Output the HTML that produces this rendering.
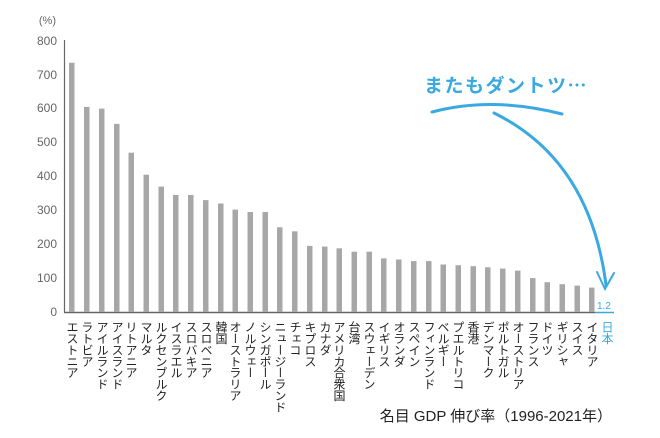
<!DOCTYPE html>
<html><head><meta charset="utf-8"><style>
body{margin:0;background:#fff;}
#w{position:relative;width:660px;height:438px;overflow:hidden;font-family:"Liberation Sans","Noto Sans CJK JP",sans-serif;}
.l{position:absolute;top:321px;width:14px;writing-mode:vertical-rl;font-size:12px;line-height:14px;color:#222;font-family:"Noto Sans CJK JP",sans-serif;letter-spacing:-0.6px;}
</style></head><body><div id="w">
<svg width="660" height="438" style="position:absolute;left:0;top:0">
<g fill="#666" font-size="12" text-anchor="end" font-family="Liberation Sans,sans-serif">
<text x="57" y="316">0</text><text x="57" y="282">100</text><text x="57" y="248">200</text><text x="57" y="214">300</text><text x="57" y="180">400</text><text x="57" y="146">500</text><text x="57" y="112">600</text><text x="57" y="79">700</text><text x="57" y="45">800</text>
<text x="56" y="24" font-size="11">(%)</text>
</g>
<line x1="64.5" y1="40" x2="64.5" y2="312" stroke="#666" stroke-width="1.2"/>
<line x1="64" y1="312.5" x2="595" y2="312.5" stroke="#666" stroke-width="1.5"/>
<line x1="595" y1="312.5" x2="614" y2="312.5" stroke="#3aa9e0" stroke-width="1.5"/>
<g fill="#a7a7aa">
<rect x="69" y="62.8" width="5.5" height="249.2"/>
<rect x="84" y="106.9" width="5.5" height="205.1"/>
<rect x="99" y="108.6" width="5.5" height="203.4"/>
<rect x="114" y="123.9" width="5.5" height="188.1"/>
<rect x="128.5" y="152.7" width="5.5" height="159.3"/>
<rect x="143.5" y="174.7" width="5.5" height="137.3"/>
<rect x="158.5" y="186.6" width="5.5" height="125.4"/>
<rect x="173" y="195" width="5.5" height="117"/>
<rect x="188" y="195" width="5.5" height="117"/>
<rect x="203" y="200.1" width="5.5" height="111.9"/>
<rect x="218" y="203.5" width="5.5" height="108.5"/>
<rect x="232.5" y="209.6" width="5.5" height="102.4"/>
<rect x="247.5" y="212" width="5.5" height="100"/>
<rect x="262.5" y="212" width="5.5" height="100"/>
<rect x="277" y="227.3" width="5.5" height="84.7"/>
<rect x="292" y="231.3" width="5.5" height="80.7"/>
<rect x="307" y="245.9" width="5.5" height="66.1"/>
<rect x="322" y="246.6" width="5.5" height="65.4"/>
<rect x="336.5" y="248.3" width="5.5" height="63.7"/>
<rect x="351.5" y="251.7" width="5.5" height="60.3"/>
<rect x="366.5" y="251.7" width="5.5" height="60.3"/>
<rect x="381" y="258.4" width="5.5" height="53.6"/>
<rect x="396" y="259.5" width="5.5" height="52.5"/>
<rect x="411" y="261.1" width="5.5" height="50.9"/>
<rect x="426" y="261.1" width="5.5" height="50.9"/>
<rect x="440.5" y="264.5" width="5.5" height="47.5"/>
<rect x="455.5" y="265.2" width="5.5" height="46.8"/>
<rect x="470.5" y="266.2" width="5.5" height="45.8"/>
<rect x="485" y="267.3" width="5.5" height="44.7"/>
<rect x="500" y="268.6" width="5.5" height="43.4"/>
<rect x="515" y="270.6" width="5.5" height="41.4"/>
<rect x="530" y="278.1" width="5.5" height="33.9"/>
<rect x="544.5" y="282.2" width="5.5" height="29.8"/>
<rect x="559.5" y="284.2" width="5.5" height="27.8"/>
<rect x="574.5" y="285.6" width="5.5" height="26.4"/>
<rect x="589" y="287.6" width="5.5" height="24.4"/>
</g>
<text x="597" y="309" font-size="10" fill="#3aa9e0" font-family="Liberation Sans,sans-serif">1.2</text>
<text x="424" y="92" font-size="19" font-weight="bold" fill="#3aa9e0" font-family="Noto Sans CJK JP,sans-serif" letter-spacing="1.5">またもダントツ…</text>
<path d="M432 112 Q492 96 562 114" stroke="#3aa9e0" stroke-width="3" fill="none" stroke-linecap="round"/>
<path d="M494 113 Q590 160 606 285" stroke="#3aa9e0" stroke-width="3" fill="none" stroke-linecap="round"/>
<path d="M597 272 L605 289 L614 273" stroke="#3aa9e0" stroke-width="2" fill="none" stroke-linecap="round"/>
<text x="612" y="421" font-size="15" text-anchor="end" fill="#222" font-family="Liberation Sans,Noto Sans CJK JP,sans-serif">名目 GDP 伸び率（1996-2021年）</text>
</svg>
<div class="l" style="left:65px">エストニア</div>
<div class="l" style="left:80px">ラトビア</div>
<div class="l" style="left:95px">アイルランド</div>
<div class="l" style="left:110px">アイスランド</div>
<div class="l" style="left:124px">リトアニア</div>
<div class="l" style="left:139px">マルタ</div>
<div class="l" style="left:154px">ルクセンブルク</div>
<div class="l" style="left:169px">イスラエル</div>
<div class="l" style="left:184px">スロバキア</div>
<div class="l" style="left:199px">スロベニア</div>
<div class="l" style="left:214px">韓国</div>
<div class="l" style="left:228px">オーストラリア</div>
<div class="l" style="left:243px">ノルウェー</div>
<div class="l" style="left:258px">シンガポール</div>
<div class="l" style="left:273px">ニュージーランド</div>
<div class="l" style="left:288px">チェコ</div>
<div class="l" style="left:303px">キプロス</div>
<div class="l" style="left:318px">カナダ</div>
<div class="l" style="left:332px">アメリカ合衆国</div>
<div class="l" style="left:347px">台湾</div>
<div class="l" style="left:362px">スウェーデン</div>
<div class="l" style="left:377px">イギリス</div>
<div class="l" style="left:392px">オランダ</div>
<div class="l" style="left:407px">スペイン</div>
<div class="l" style="left:422px">フィンランド</div>
<div class="l" style="left:436px">ベルギー</div>
<div class="l" style="left:451px">プエルトリコ</div>
<div class="l" style="left:466px">香港</div>
<div class="l" style="left:481px">デンマーク</div>
<div class="l" style="left:496px">ポルトガル</div>
<div class="l" style="left:511px">オーストリア</div>
<div class="l" style="left:526px">フランス</div>
<div class="l" style="left:540px">ドイツ</div>
<div class="l" style="left:555px">ギリシャ</div>
<div class="l" style="left:570px">スイス</div>
<div class="l" style="left:585px">イタリア</div>
<div class="l" style="left:600px;color:#3aa9e0">日本</div>
</div></body></html>
